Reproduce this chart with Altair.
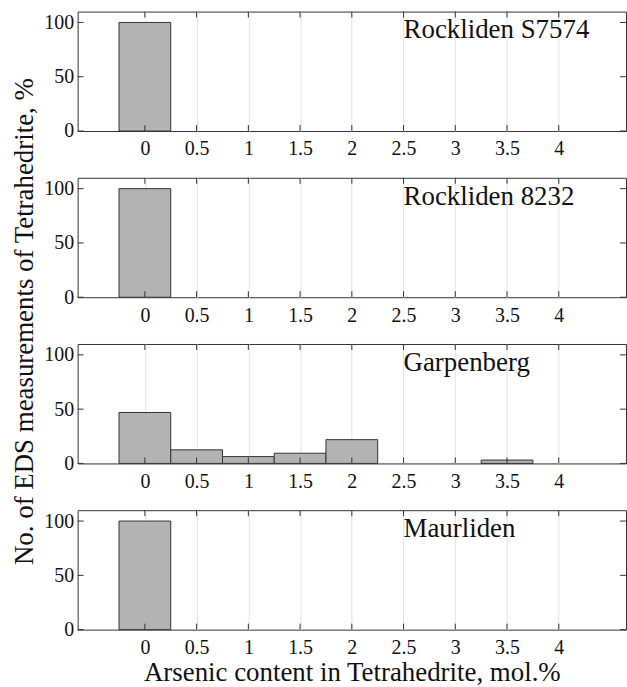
import altair as alt
import pandas as pd

# ---- data ----
bins = [0, 0.5, 1, 1.5, 2, 2.5, 3, 3.5, 4]
site_names = ["Rockliden S7574", "Rockliden 8232", "Garpenberg", "Maurliden"]
rockliden_s7574 = [100, 0, 0, 0, 0, 0, 0, 0, 0]
rockliden_8232 = [100, 0, 0, 0, 0, 0, 0, 0, 0]
garpenberg = [46.9, 12.5, 6.3, 9.4, 21.9, 0, 0, 3.1, 0]
maurliden = [100, 0, 0, 0, 0, 0, 0, 0, 0]
y_ticks = [0, 50, 100]
x_title = "Arsenic content in Tetrahedrite, mol.%"
y_title = "No. of EDS measurements of Tetrahedrite, %"
label_x = 2.5

series = [rockliden_s7574, rockliden_8232, garpenberg, maurliden]

FONT = "Liberation Serif"
TXT = "#111111"
EDGE = "#333333"
W, H = 551, 120

xscale = alt.Scale(domain=[-0.65, 4.65], nice=False, zero=False)
yscale = alt.Scale(domain=[0, 110], nice=False, zero=False)


def panel(name, values, idx):
    df = pd.DataFrame({"bin": bins, "pct": values})
    first = idx == 0
    last = idx == len(series) - 1

    xa = dict(values=bins, format="~g", grid=True, gridColor="#e3e3e3", gridWidth=1,
              ticks=False, domain=False, labelFont=FONT, labelFontSize=20,
              labelColor=TXT, labelPadding=8, labelFlush=False)
    if last:
        xa.update(title=x_title, titleFont=FONT, titleFontSize=27, titleFontWeight="normal",
                  titleColor=TXT, titleY=51, titleBaseline="alphabetic")
    else:
        xa.update(title="")

    ya = dict(values=y_ticks, grid=False, ticks=False, domain=False, labelFont=FONT,
              labelFontSize=20, labelColor=TXT, labelPadding=4)
    if first:
        ya.update(title=y_title, titleFont=FONT, titleFontSize=27, titleFontWeight="normal",
                  titleColor=TXT, titleAngle=270, titleAlign="center",
                  titleBaseline="alphabetic", titleX=-45, titleY=311)
    else:
        ya.update(title="")

    xaxis = alt.Axis(**xa)
    yaxis = alt.Axis(**ya)

    bars = (
        alt.Chart(df)
        .transform_filter("datum.pct > 0")
        .transform_calculate(x0="datum.bin - 0.25", x1="datum.bin + 0.25")
        .mark_rect(fill="#b3b3b3", stroke=EDGE, strokeWidth=1)
        .encode(
            x=alt.X("x0:Q", scale=xscale, axis=xaxis),
            x2="x1:Q",
            y=alt.Y("pct:Q", scale=yscale, axis=yaxis),
            y2=alt.datum(0),
        )
    )

    xt = alt.Chart(pd.DataFrame({"t": bins}))
    xt_bottom = xt.mark_rule(color=EDGE, strokeWidth=1).encode(
        x=alt.X("t:Q", scale=xscale, axis=xaxis), y=alt.value(H), y2=alt.value(H - 6))
    xt_top = xt.mark_rule(color=EDGE, strokeWidth=1).encode(
        x=alt.X("t:Q", scale=xscale, axis=xaxis), y=alt.value(0), y2=alt.value(6))

    yt = alt.Chart(pd.DataFrame({"t": y_ticks}))
    yt_left = yt.mark_rule(color=EDGE, strokeWidth=1).encode(
        y=alt.Y("t:Q", scale=yscale, axis=yaxis), x=alt.value(0), x2=alt.value(6))
    yt_right = yt.mark_rule(color=EDGE, strokeWidth=1).encode(
        y=alt.Y("t:Q", scale=yscale, axis=yaxis), x=alt.value(W), x2=alt.value(W - 6))

    label = (
        alt.Chart(pd.DataFrame({"label": [name], "lx": [label_x]}))
        .mark_text(align="left", baseline="alphabetic", font=FONT, fontSize=27, color=TXT)
        .encode(x=alt.X("lx:Q", scale=xscale, axis=xaxis), y=alt.value(27), text="label:N")
    )

    return alt.layer(bars, xt_bottom, xt_top, yt_left, yt_right, label).properties(width=W, height=H)


panels = [panel(n, v, i) for i, (n, v) in enumerate(zip(site_names, series))]

chart = (
    alt.vconcat(*panels, spacing=47, bounds="flush")
    .configure_view(stroke=EDGE, strokeWidth=1)
    .configure_axis(labelFont=FONT, titleFont=FONT)
    .configure_text(font=FONT)
    .properties(padding={"left": 10, "top": 9, "right": 0, "bottom": 0}, background="white")
)

chart.save("out.html", embed_options={"renderer": "svg", "actions": False})
